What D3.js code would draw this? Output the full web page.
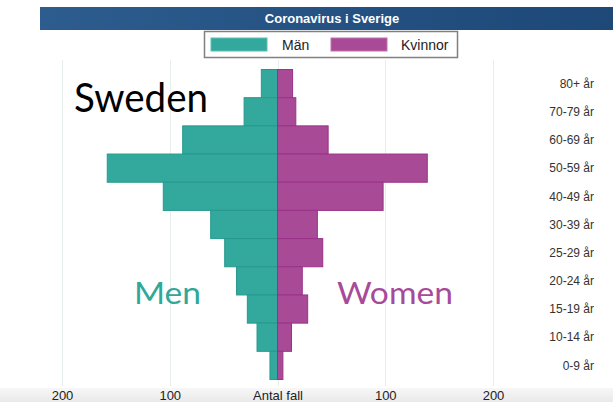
<!DOCTYPE html>
<html>
  <head>
    <meta charset="utf-8">
    <title>Coronavirus i Sverige</title>
    <script src="https://cdn.jsdelivr.net/npm/d3@7"></script>
    <style media="screen">
      body { margin: 0; background: #fff; }
      svg { display: block; }
      .grid line { stroke: #e6eeee; stroke-width: 1; shape-rendering: crispEdges; }
      .grid path { stroke-width: 0; }
      .x-axis path, .x-axis line { display: none; }
      .x-axis text { font: 13px "Liberation Sans", Arial, sans-serif; fill: #222; }
      .age text { font: 12px "Liberation Sans", Arial, sans-serif; fill: #333; }
    </style>
  </head>
  <body>
    <script type="text/javascript">

    // age groups, top to bottom
    const ageGroups = ["80+ år", "70-79 år", "60-69 år", "50-59 år", "40-49 år", "30-39 år",
                       "25-29 år", "20-24 år", "15-19 år", "10-14 år", "0-9 år"];
    const men   = [15, 31, 88, 158, 106, 62, 49, 38, 28, 19, 7];
    const women = [14, 17, 47, 139, 98, 37, 42, 23, 28, 13, 5];
    const xTicks = [-200, -100, 0, 100, 200];

    const W = 613, H = 402;

    const svg = d3.select('body').append('svg')
      .attr('width', W)
      .attr('height', H);

    const defs = svg.append('defs');
    const tg = defs.append('linearGradient').attr('id', 'titleGrad');
    tg.append('stop').attr('offset', '0%').attr('stop-color', '#2d5c8e');
    tg.append('stop').attr('offset', '100%').attr('stop-color', '#1d4878');
    const bg = defs.append('linearGradient').attr('id', 'botGrad')
      .attr('x1', 0).attr('y1', 0).attr('x2', 0).attr('y2', 1);
    bg.append('stop').attr('offset', '0%').attr('stop-color', '#f7f7f7');
    bg.append('stop').attr('offset', '100%').attr('stop-color', '#e9e9e9');

    let x = d3.scaleLinear().domain([-200, 200]).range([62, 493]);
    let y = d3.scaleBand().domain(ageGroups).range([69.5, 379.5]).padding(0);

    // bottom shade
    svg.append('rect')
      .attr('x', 0).attr('y', 388).attr('width', W).attr('height', H - 388)
      .attr('fill', 'url(#botGrad)');

    // title bar
    svg.append('rect')
      .attr('x', 40).attr('y', 7).attr('width', W - 40).attr('height', 23)
      .attr('fill', 'url(#titleGrad)');
    svg.append('text')
      .attr('x', 332).attr('y', 23)
      .attr('text-anchor', 'middle')
      .style('font', 'bold 13px "Liberation Sans", Arial, sans-serif')
      .style('fill', '#fff')
      .text('Coronavirus i Sverige');

    // legend
    const lg = svg.append('g');
    lg.append('rect')
      .attr('x', 204.5).attr('y', 31.5).attr('width', 253).attr('height', 26)
      .attr('fill', '#fff').attr('stroke', '#808080').attr('stroke-width', 1.5);
    lg.append('rect').attr('x', 211).attr('y', 38).attr('width', 56).attr('height', 13)
      .attr('fill', '#33a89c').attr('stroke', '#5cc0b4');
    lg.append('text').attr('x', 282).attr('y', 49.5)
      .style('font', '14px "Liberation Sans", Arial, sans-serif').style('fill', '#222')
      .text('Män');
    lg.append('rect').attr('x', 331).attr('y', 38).attr('width', 56).attr('height', 13)
      .attr('fill', '#a84a96').attr('stroke', '#c070b0');
    lg.append('text').attr('x', 401).attr('y', 49.5)
      .style('font', '14px "Liberation Sans", Arial, sans-serif').style('fill', '#222')
      .text('Kvinnor');

    // gridlines
    svg.append('g')
      .attr('class', 'grid')
      .attr('transform', 'translate(0,386)')
      .call(d3.axisBottom(x)
        .tickValues(xTicks)
        .tickSize(-326)
        .tickFormat('')
      );

    // bars
    svg.selectAll('.men')
      .data(men).enter()
      .append('rect')
      .attr('class', 'men')
      .attr('x', d => x(-d))
      .attr('y', (d, i) => y(ageGroups[i]))
      .attr('width', d => x(0) - x(-d))
      .attr('height', y.bandwidth())
      .attr('fill', '#33a89c')
      .attr('stroke', '#27998c')
      .attr('stroke-width', 1);

    svg.selectAll('.women')
      .data(women).enter()
      .append('rect')
      .attr('class', 'women')
      .attr('x', x(0))
      .attr('y', (d, i) => y(ageGroups[i]))
      .attr('width', d => x(d) - x(0))
      .attr('height', y.bandwidth())
      .attr('fill', '#a84a96')
      .attr('stroke', '#9a3288')
      .attr('stroke-width', 1);

    // age labels
    svg.append('g')
      .attr('class', 'age')
      .selectAll('text')
      .data(ageGroups).enter()
      .append('text')
      .attr('x', 594)
      .attr('y', d => y(d) + y.bandwidth() / 2)
      .attr('dy', '0.35em')
      .attr('text-anchor', 'end')
      .text(d => d);

    // x axis labels
    svg.append('g')
      .attr('class', 'x-axis')
      .attr('transform', 'translate(0,388)')
      .call(d3.axisBottom(x)
        .tickValues(xTicks)
        .tickSize(0)
        .tickPadding(0)
        .tickFormat(d => d === 0 ? 'Antal fall' : Math.abs(d))
      )
      .selectAll('text')
      .attr('dy', '0.95em');

    // annotations
    svg.append('text')
      .attr('x', 74).attr('y', 112)
      .attr('textLength', 134).attr('lengthAdjust', 'spacingAndGlyphs')
      .style('font', '40px Lato, sans-serif').style('fill', '#000')
      .text('Sweden');
    svg.append('text')
      .attr('x', 134).attr('y', 304)
      .attr('textLength', 67).attr('lengthAdjust', 'spacingAndGlyphs')
      .style('font', '31px Lato, sans-serif').style('fill', '#2fa89a')
      .text('Men');
    svg.append('text')
      .attr('x', 337).attr('y', 304)
      .attr('textLength', 116).attr('lengthAdjust', 'spacingAndGlyphs')
      .style('font', '31px Lato, sans-serif').style('fill', '#a84a9a')
      .text('Women');
    </script>
  </body>
</html>
